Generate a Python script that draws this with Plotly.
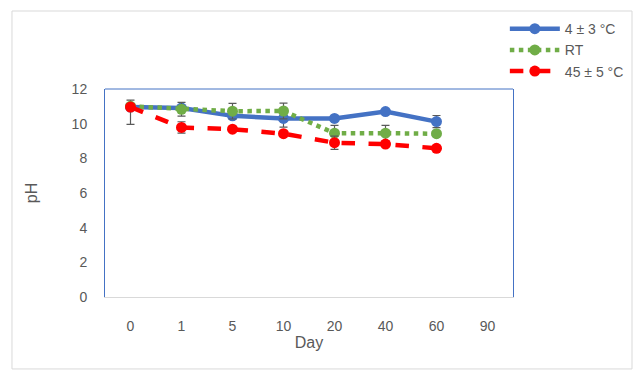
import plotly.graph_objects as go

days = ["0", "1", "5", "10", "20", "40", "60", "90"]
ph_cold = [10.96, 10.9, 10.45, 10.3, 10.3, 10.7, 10.12]
ph_rt = [11.0, 10.83, 10.72, 10.73, 9.45, 9.45, 9.42]
ph_hot = [10.96, 9.78, 9.68, 9.42, 8.9, 8.82, 8.58]
err_cold_plus = [0.4, 0.0, 0.0, 0.0, 0.0, 0.0, 0.35]
err_cold_minus = [0.0, 0.0, 0.0, 0.5, 0.0, 0.0, 0.35]
err_rt = [0.0, 0.4, 0.45, 0.45, 0.45, 0.45, 0.0]
err_hot_plus = [0.0, 0.33, 0.0, 0.0, 0.38, 0.0, 0.0]
err_hot_minus = [1.0, 0.33, 0.0, 0.0, 0.38, 0.0, 0.0]
names = ["4 ± 3 °C", "RT", "45 ± 5 °C"]

font = "Liberation Sans"
grey = "#595959"

fig = go.Figure()
eb = dict(color=grey, thickness=1.2, width=4)
fig.add_trace(go.Scatter(
    x=days[:7], y=ph_cold, name=names[0], mode="lines+markers",
    line=dict(color="#4472C4", width=4.5), marker=dict(size=11, color="#4472C4"),
    error_y=dict(type="data", symmetric=False, array=err_cold_plus, arrayminus=err_cold_minus, **eb)))
fig.add_trace(go.Scatter(
    x=days[:7], y=ph_rt, name=names[1], mode="lines+markers",
    line=dict(color="#70AD47", width=4.5, dash="dot"), marker=dict(size=11, color="#70AD47"),
    error_y=dict(type="data", array=err_rt, **eb)))
fig.add_trace(go.Scatter(
    x=days[:7], y=ph_hot, name=names[2], mode="lines+markers",
    line=dict(color="#FF0000", width=4.5, dash="dash"), marker=dict(size=11, color="#FF0000"),
    error_y=dict(type="data", symmetric=False, array=err_hot_plus, arrayminus=err_hot_minus, **eb)))

fig.update_layout(
    width=643, height=381,
    margin=dict(l=97, r=138, t=81, b=92, autoexpand=False),
    paper_bgcolor="white", plot_bgcolor="white",
    font=dict(family=font, color=grey, size=14),
    xaxis=dict(type="category", categoryarray=days, range=[-0.5, 7.5],
               showline=True, linecolor="#d9d9d9", linewidth=1,
               showgrid=False, zeroline=False, ticks="", ticklabelstandoff=16,
               title=dict(text="Day", font=dict(size=16, color=grey), standoff=4)),
    yaxis=dict(range=[0, 12], dtick=2, showline=True, mirror=True, linecolor="#4472C4", linewidth=1,
               showgrid=False, zeroline=False, ticks="", ticklabelstandoff=14,
               title=dict(text="pH", font=dict(size=16, color=grey), standoff=30)),
    legend=dict(x=0.98, y=1.365, xanchor="left", yanchor="top", bgcolor="rgba(0,0,0,0)",
                font=dict(size=14, color=grey), itemwidth=50, tracegroupgap=0),
    showlegend=True,
    shapes=[
        dict(type="line", xref="paper", yref="paper", x0=0, x1=1, y0=1, y1=1,
             line=dict(color="#4472C4", width=1)),
        dict(type="rect", xref="paper", yref="paper", x0=-0.228, x1=1.2917, y0=-0.346, y1=1.375,
             line=dict(color="#d9d9d9", width=1), layer="below"),
    ],
)

fig.write_html("out.html")
